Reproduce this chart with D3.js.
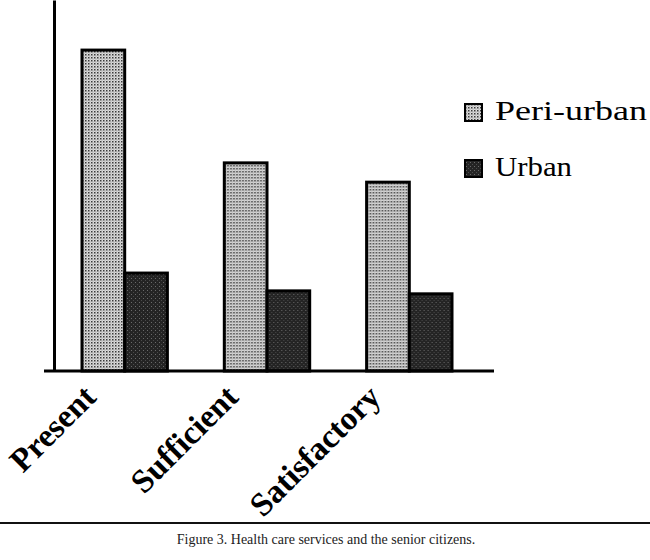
<!DOCTYPE html>
<html>
<head>
<meta charset="utf-8">
<script src="https://cdn.jsdelivr.net/npm/d3@7"></script>
<style>
  body { margin: 0; background: #fff; }
  svg { display: block; }
</style>
</head>
<body>
<script>
// datos (sin escala en el eje, en %)
const categorias = ["Present", "Sufficient", "Satisfactory"];
const series = ["Peri-urban", "Urban"];
const periUrbano = [86.5, 56.1, 50.9];
const urbano = [26.4, 21.6, 20.8];
const pie = "Figure 3. Health care services and the senior citizens.";

let width = 650;
let height = 560;
let margin = { top: 0, left: 54, baseline: 371 };

const datos = categorias.map((c, i) => ({ cat: c, valores: [periUrbano[i], urbano[i]] }));

const svg = d3.select("body").append("svg")
  .attr("width", width)
  .attr("height", height);

// texturas de las barras
const defs = svg.append("defs");
const pPeri = defs.append("pattern")
  .attr("id", "peri")
  .attr("width", 3).attr("height", 3)
  .attr("patternUnits", "userSpaceOnUse");
pPeri.append("rect").attr("width", 3).attr("height", 3).attr("fill", "#dcdcdc");
pPeri.append("rect").attr("width", 1.5).attr("height", 1.5).attr("fill", "#3a3a3a");
pPeri.append("rect").attr("x", 1.5).attr("y", 1.5).attr("width", 1).attr("height", 1).attr("fill", "#888");

const pUrb = defs.append("pattern")
  .attr("id", "urb")
  .attr("width", 4).attr("height", 4)
  .attr("patternUnits", "userSpaceOnUse");
pUrb.append("rect").attr("width", 4).attr("height", 4).attr("fill", "#242424");
pUrb.append("rect").attr("x", 1).attr("y", 2).attr("width", 1).attr("height", 1).attr("fill", "#6a6a6a");
pUrb.append("rect").attr("x", 3).attr("y", 0).attr("width", 1).attr("height", 1).attr("fill", "#4a4a4a");

const rellenos = ["url(#peri)", "url(#urb)"];

// escalas
const escalaX = d3.scaleBand()
  .domain(categorias)
  .range([82, 452])
  .paddingInner(0.4)
  .paddingOuter(0);
const escalaSerie = d3.scaleBand()
  .domain(series)
  .range([0, escalaX.bandwidth()])
  .padding(0);
const escalaY = d3.scaleLinear()
  .domain([0, 100])
  .range([margin.baseline, margin.top]);

// barras
const grupos = svg.selectAll("g.grupo")
  .data(datos)
  .enter()
  .append("g")
  .attr("class", "grupo")
  .attr("transform", d => "translate(" + escalaX(d.cat) + ",0)");
grupos.selectAll("rect")
  .data(d => d.valores.map((v, i) => ({ serie: series[i], v: v, i: i })))
  .enter()
  .append("rect")
  .attr("x", d => escalaSerie(d.serie))
  .attr("y", d => escalaY(d.v))
  .attr("width", escalaSerie.bandwidth())
  .attr("height", d => escalaY(0) - escalaY(d.v))
  .attr("fill", d => rellenos[d.i])
  .attr("stroke", "#000")
  .attr("stroke-width", 3);

// eje y sin marcas
let ejeY = d3.axisLeft(escalaY).ticks(0).tickSize(0).tickSizeOuter(0);
svg.append("g")
  .attr("transform", "translate(" + margin.left + ",0)")
  .call(ejeY)
  .select(".domain")
  .attr("stroke", "#000")
  .attr("stroke-width", 3);

// linea base
svg.append("line")
  .attr("x1", 44).attr("x2", 494)
  .attr("y1", escalaY(0)).attr("y2", escalaY(0))
  .attr("stroke", "#000")
  .attr("stroke-width", 3);

// etiquetas de categoria giradas
svg.selectAll("text.cat")
  .data(categorias)
  .enter()
  .append("text")
  .attr("class", "cat")
  .attr("transform", d => "translate(" + (escalaX(d) + escalaX.bandwidth() / 2 - 27) + "," + (escalaY(0) + 28) + ") rotate(-45)")
  .attr("text-anchor", "end")
  .attr("font-family", "'Liberation Serif', 'Times New Roman', serif")
  .attr("font-weight", "bold")
  .attr("font-size", 33)
  .attr("fill", "#000")
  .text(d => d);

// leyenda
const leyenda = svg.selectAll("g.ley")
  .data(series)
  .enter()
  .append("g")
  .attr("class", "ley")
  .attr("transform", (d, i) => "translate(465," + (104 + i * 56) + ")");
leyenda.append("rect")
  .attr("width", 17).attr("height", 17)
  .attr("fill", (d, i) => rellenos[i])
  .attr("stroke", "#000")
  .attr("stroke-width", 2);
leyenda.append("text")
  .attr("x", 30)
  .attr("y", 16)
  .attr("font-family", "'Liberation Serif', 'Times New Roman', serif")
  .attr("font-size", 28)
  .attr("textLength", (d, i) => i === 0 ? 152 : 77)
  .attr("lengthAdjust", "spacingAndGlyphs")
  .attr("fill", "#000")
  .text(d => d);

// linea separadora y pie de figura
svg.append("line")
  .attr("x1", 0).attr("x2", width)
  .attr("y1", 523).attr("y2", 523)
  .attr("stroke", "#111")
  .attr("stroke-width", 2);
svg.append("text")
  .attr("x", 326)
  .attr("y", 544)
  .attr("text-anchor", "middle")
  .attr("font-family", "'Liberation Serif', 'Times New Roman', serif")
  .attr("font-size", 14)
  .attr("fill", "#222")
  .text(pie);
</script>
</body>
</html>
